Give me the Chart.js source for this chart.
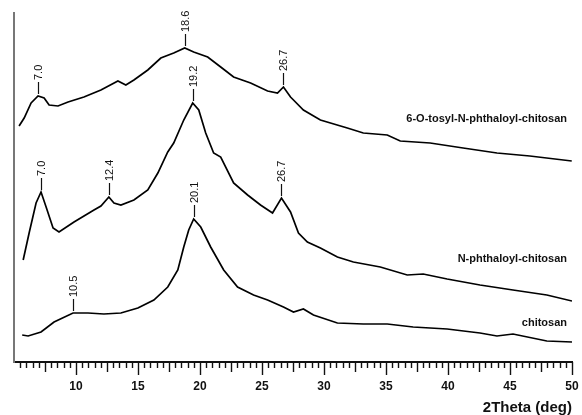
<!DOCTYPE html>
<html>
<head>
<meta charset="utf-8">
<script src="https://cdn.jsdelivr.net/npm/chart.js@4.4.0/dist/chart.umd.min.js"></script>
<style>
  html, body { margin: 0; padding: 0; background: #fff; }
</style>
</head>
<body>
<canvas id="xrd" width="582" height="415"></canvas>
<script>
// 2Theta (deg) / intensity (arb. units, traces already stacked)
const tosylX = [5.41, 5.82, 6.38, 6.94, 7.43, 7.83, 8.55, 9.36, 10.64, 12.01, 13.38, 14.02, 14.67, 15.79, 16.84, 17.88, 18.77, 19.49, 20.62, 21.67, 22.71, 24.08, 25.45, 26.25, 26.73, 27.30, 27.54, 28.34, 29.71, 31.88, 33.17, 35.10, 36.15, 38.56, 41.22, 43.95, 46.60, 49.98]
const tosylY = [236, 244, 259, 266, 264, 257, 256, 260, 265, 272, 281, 277, 282, 292, 304, 309, 314, 310, 305, 295, 285, 279, 271, 269, 275, 265, 262, 252, 242, 234, 229, 227, 221, 219, 214, 209, 206, 201]

const phthX = [5.74, 6.22, 6.78, 7.18, 7.59, 8.15, 8.63, 9.84, 11.45, 12.01, 12.65, 13.06, 13.62, 14.67, 15.79, 16.60, 17.40, 17.88, 18.69, 19.41, 19.90, 20.46, 21.10, 21.67, 22.71, 23.84, 24.88, 25.85, 26.57, 27.30, 27.94, 28.66, 29.71, 31.08, 32.37, 34.54, 36.71, 38.00, 39.93, 42.58, 45.24, 47.97, 50.00]
const phthY = [102, 129, 159, 170, 155, 134, 130, 140, 152, 156, 165, 159, 157, 162, 172, 189, 210, 219, 242, 259, 252, 229, 209, 205, 179, 167, 157, 149, 164, 150, 129, 120, 114, 105, 100, 95, 87, 88, 83, 77, 72, 67, 61]

const chitX = [5.66, 6.14, 7.18, 8.23, 9.76, 10.97, 12.25, 13.62, 14.99, 16.28, 17.40, 18.21, 18.69, 19.09, 19.49, 20.06, 20.86, 21.91, 23.03, 24.32, 25.45, 26.73, 27.54, 28.34, 29.15, 31.08, 33.17, 35.10, 37.19, 39.93, 42.58, 43.95, 45.24, 47.97, 50.00]
const chitY = [27, 26, 30, 40, 49, 49, 48, 49, 54, 62, 75, 92, 115, 132, 143, 135, 115, 92, 75, 67, 62, 55, 50, 53, 47, 39, 38, 38, 35, 33, 29, 26, 28, 21, 20]

// peak markers: where they sit on the trace, and the printed value
const tosylPeaks = [6.94, 18.77, 26.73]
const tosylPeakText = ['7.0', '18.6', '26.7']
const phthPeaks = [7.18, 12.65, 19.41, 26.57]
const phthPeakText = ['7.0', '12.4', '19.2', '26.7']
const chitPeaks = [9.76, 19.49]
const chitPeakText = ['10.5', '20.1']

const seriesNames = ['6-O-tosyl-N-phthaloyl-chitosan', 'N-phthaloyl-chitosan', 'chitosan']
const nameY = [243, 103, 39]
const xTickLabels = [5, 10, 15, 20, 25, 30, 35, 40, 45, 50]

const FONT = "'Liberation Sans', Arial, sans-serif"

function pts(xs, ys) {
    return xs.map((x, i) => ({ x: x, y: ys[i] }))
}

function nearestY(xs, ys, v) {
    let best = 0
    xs.forEach((x, i) => { if (Math.abs(x - v) < Math.abs(xs[best] - v)) best = i })
    return ys[best]
}

const marks = {
    id: 'marks',
    afterDraw(chart) {
        const ctx = chart.ctx
        const xs = chart.scales.x
        const ys = chart.scales.y
        const base = chart.chartArea.bottom
        ctx.save()

        // axis ticks: 0.5 minor, 2.5 medium, 5 major
        ctx.strokeStyle = '#111'
        ctx.lineWidth = 1.4
        for (let k = 11; k <= 100; k++) {
            const v = k / 2
            const len = k % 10 === 0 ? 13 : (k % 5 === 0 ? 10 : 6)
            const px = Math.round(xs.getPixelForValue(v)) + 0.5
            ctx.beginPath()
            ctx.moveTo(px, base)
            ctx.lineTo(px, base + len)
            ctx.stroke()
        }

        // peak annotations
        const groups = [
            [tosylX, tosylY, tosylPeaks, tosylPeakText],
            [phthX, phthY, phthPeaks, phthPeakText],
            [chitX, chitY, chitPeaks, chitPeakText]
        ]
        ctx.font = '11px ' + FONT
        ctx.fillStyle = '#111'
        ctx.lineWidth = 1.2
        groups.forEach(g => {
            g[2].forEach((p, i) => {
                const px = Math.round(xs.getPixelForValue(p)) + 0.5
                const py = ys.getPixelForValue(nearestY(g[0], g[1], p))
                ctx.beginPath()
                ctx.moveTo(px, py - 2)
                ctx.lineTo(px, py - 14)
                ctx.stroke()
                ctx.save()
                ctx.translate(px, py - 16)
                ctx.rotate(-Math.PI / 2)
                ctx.textAlign = 'left'
                ctx.textBaseline = 'middle'
                ctx.fillText(g[3][i], 0, 0)
                ctx.restore()
            })
        })

        // trace names
        ctx.font = 'bold 11px ' + FONT
        ctx.textAlign = 'right'
        ctx.textBaseline = 'middle'
        seriesNames.forEach((n, i) => {
            ctx.fillText(n, xs.getPixelForValue(49.6), ys.getPixelForValue(nameY[i]))
        })
        ctx.restore()
    }
}

const lineStyle = { borderColor: '#000', borderWidth: 1.7, pointRadius: 0, tension: 0, fill: false }

new Chart(document.getElementById('xrd'), {
    type: 'line',
    data: {
        datasets: [
            Object.assign({ label: seriesNames[0], data: pts(tosylX, tosylY) }, lineStyle),
            Object.assign({ label: seriesNames[1], data: pts(phthX, phthY) }, lineStyle),
            Object.assign({ label: seriesNames[2], data: pts(chitX, chitY) }, lineStyle)
        ]
    },
    options: {
        responsive: false,
        animation: false,
        devicePixelRatio: 1,
        layout: { padding: { top: 13, right: 10, bottom: 0, left: 0 } },
        plugins: { legend: { display: false }, tooltip: { enabled: false } },
        scales: {
            x: {
                type: 'linear',
                min: 5,
                max: 50,
                afterBuildTicks: s => { s.ticks = xTickLabels.map(v => ({ value: v })) },
                afterFit: s => { s.height = 53; s.paddingLeft = 0; s.paddingRight = 0 },
                grid: { drawOnChartArea: false, drawTicks: false },
                border: { color: '#111', width: 2 },
                ticks: {
                    autoSkip: false,
                    maxRotation: 0,
                    padding: 17,
                    color: '#111',
                    font: { family: FONT, size: 12, weight: 'bold' },
                    callback: v => v === 5 ? '' : v
                },
                title: {
                    display: true,
                    text: '2Theta (deg)',
                    align: 'end',
                    color: '#111',
                    font: { family: FONT, size: 15, weight: 'bold', lineHeight: 1 },
                    padding: { top: 0, bottom: 0 }
                }
            },
            y: {
                min: 0,
                max: 349,
                afterFit: s => { s.width = 14 },
                grid: { drawOnChartArea: false, drawTicks: false },
                border: { color: '#777', width: 2 },
                ticks: { display: false }
            }
        }
    },
    plugins: [marks]
})
</script>
</body>
</html>
